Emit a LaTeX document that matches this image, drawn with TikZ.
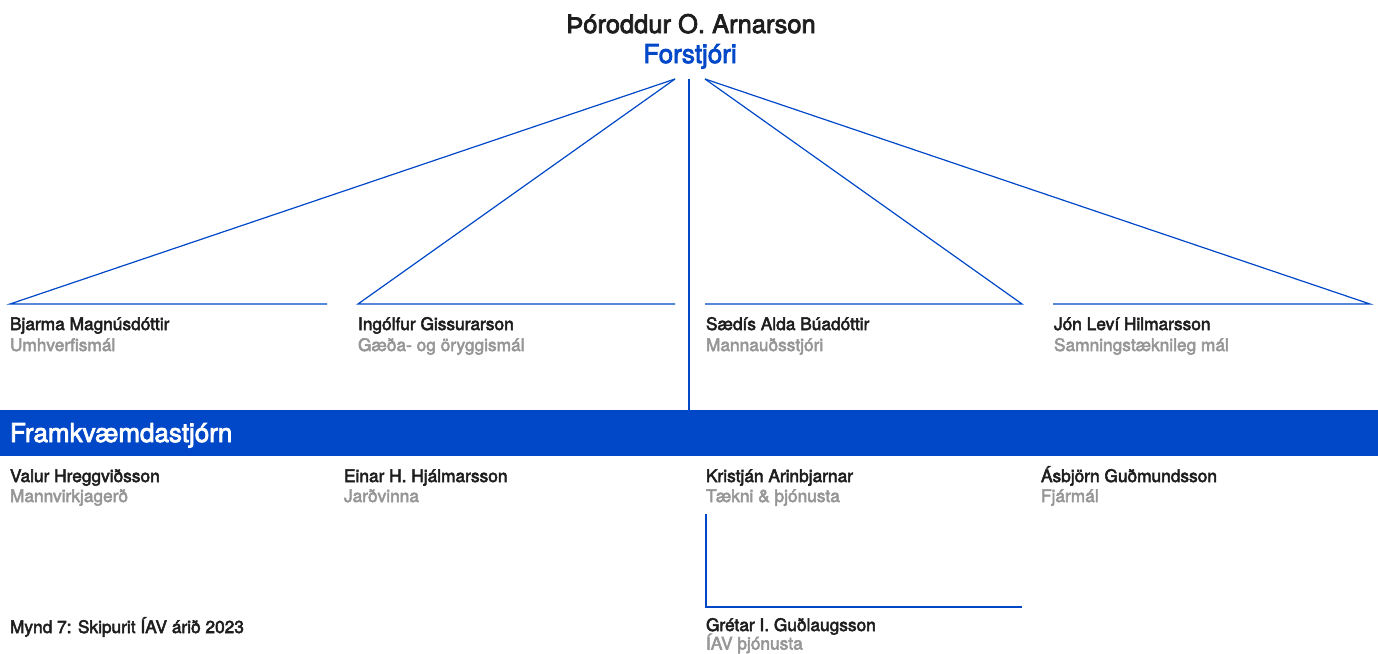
\documentclass[tikz,border=0pt]{standalone}
\usepackage{fontspec}
\setmainfont{TeX Gyre Heros}
\newfontfamily\medfont{TeX Gyre Heros}[FakeBold=3]
\definecolor{iavblue}{RGB}{0,72,200}
\definecolor{namecol}{RGB}{30,30,30}
\definecolor{rolecol}{RGB}{150,150,150}
\tikzset{
  lbl/.style={anchor=base west, inner sep=0pt, outer sep=0pt},
  pname/.style={lbl, text=namecol, font=\medfont\fontsize{17.3}{20}\selectfont},
  prole/.style={lbl, text=rolecol, font=\medfont\fontsize{17.3}{20}\selectfont},
  conn/.style={draw=iavblue, line width=1.2pt},
}
\begin{document}
\begin{tikzpicture}[x=1pt,y=-1pt]
\useasboundingbox (0,0) rectangle (1378,653);
% top
\node[anchor=base, inner sep=0pt, text=namecol, font=\medfont\fontsize{25.5}{30}\selectfont] (ceo) at (691,33) {Þóroddur O. Arnarson};
\node[anchor=base, inner sep=0pt, text=iavblue, font=\medfont\fontsize{26}{30}\selectfont] (ceot) at (690,63) {Forstjóri};
\coordinate (tl) at (675,79);
\coordinate (tm) at (689,79);
\coordinate (tr) at (705,79);
\coordinate (a1) at (10,304);  \coordinate (a2) at (327,304);
\coordinate (b1) at (358,304); \coordinate (b2) at (675,304);
\coordinate (c1) at (705,304); \coordinate (c2) at (1022,304);
\coordinate (d1) at (1053,304); \coordinate (d2) at (1370,304);
\draw[conn] (tl) -- (a1) -- (a2);
\draw[conn] (tl) -- (b1) -- (b2);
\draw[conn] (c1) -- (c2) -- (tr);
\draw[conn] (d1) -- (d2) -- (tr);
% bar
\fill[iavblue] (0,410) rectangle (1378,456);
\coordinate (bartop) at (689,410);
\draw[conn] (tm) -- (bartop);
\node[lbl, text=white, font=\medfont\fontsize{26}{30}\selectfont] (bar) at (10,442) {Framkvæmdastjórn};
% upper names
\node[pname] (n1) at (10,330) {Bjarma Magnúsdóttir};
\node[prole] (r1) at (10,351) {Umhverfismál};
\node[pname] (n2) at (358,330) {Ingólfur Gissurarson};
\node[prole] (r2) at (358,351) {Gæða- og öryggismál};
\node[pname] (n3) at (706,330) {Sædís Alda Búadóttir};
\node[prole] (r3) at (706,351) {Mannauðsstjóri};
\node[pname] (n4) at (1054,330) {Jón Leví Hilmarsson};
\node[prole] (r4) at (1054,351) {Samningstæknileg mál};
% lower names
\node[pname] (m1) at (10,482) {Valur Hreggviðsson};
\node[prole] (s1) at (10,502) {Mannvirkjagerð};
\node[pname] (m2) at (344,482) {Einar H. Hjálmarsson};
\node[prole] (s2) at (344,502) {Jarðvinna};
\node[pname] (m3) at (706,482) {Kristján Arinbjarnar};
\node[prole] (s3) at (706,502) {Tækni \& þjónusta};
\node[pname] (m4) at (1041,482) {Ásbjörn Guðmundsson};
\node[prole] (s4) at (1041,502) {Fjármál};
% sub
\coordinate (e1) at (706,514);
\coordinate (e2) at (706,607);
\coordinate (e3) at (1022,607);
\draw[conn] (e1) -- (e2) -- (e3);
\node[pname] (m5) at (706,631) {Grétar I. Guðlaugsson};
\node[prole] (s5) at (706,649.5) {ÍAV þjónusta};
\node[pname] (cap) at (10,633) {Mynd 7: Skipurit ÍAV árið 2023};
\end{tikzpicture}
\end{document}
